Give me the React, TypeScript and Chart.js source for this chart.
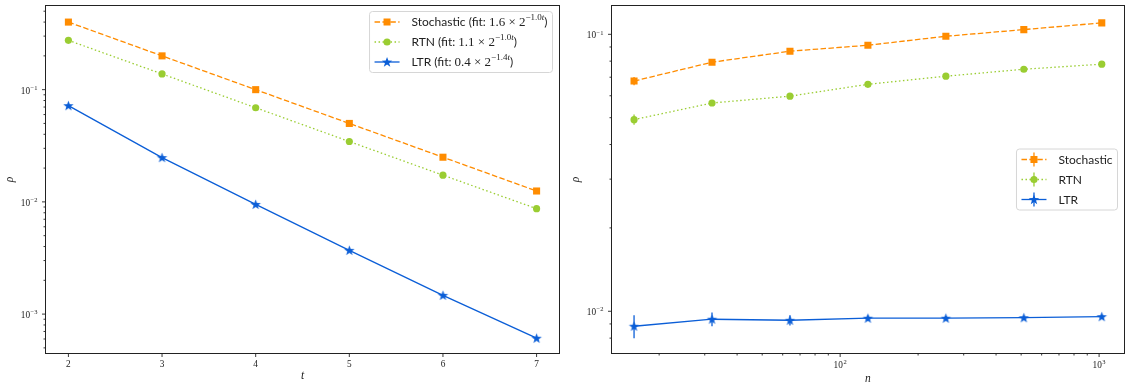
import React, { useEffect, useRef } from "react";
import { Chart, registerables } from "chart.js";

Chart.register(...registerables);

// ---------------- data ----------------
const depthT = [2, 3, 4, 5, 6, 7];
const stochT = [0.4, 0.2, 0.1, 0.05, 0.025, 0.0125];
const rtnT = [0.275, 0.138, 0.069, 0.0345, 0.0173, 0.0087];
const ltrT = [0.072, 0.0248, 0.0095, 0.0037, 0.00147, 0.00061];

const sizesN = [16, 32, 64, 128, 256, 512, 1024];
const stochN = [0.0678, 0.0793, 0.0869, 0.0913, 0.0984, 0.104, 0.11];
const stochNErr = [0.0023, 0.0015, 0.0015, 0.0015, 0.0016, 0.0017, 0.0018];
const rtnN = [0.0492, 0.0565, 0.0598, 0.066, 0.0706, 0.0748, 0.078];
const rtnNErr = [0.0021, 0.0013, 0.0012, 0.0012, 0.0012, 0.0012, 0.0012];
const ltrN = [0.00883, 0.00936, 0.00928, 0.00944, 0.00944, 0.00948, 0.00956];
const ltrNErr = [0.00084, 0.00053, 0.00039, 0.00022, 0.00018, 0.00016, 0.00015];

const seriesNames = ["Stochastic", "RTN", "LTR"];
const fitCoef = ["1.6", "1.1", "0.4"];
const fitRate = ["1.0", "1.0", "1.4"];

const tTicks = [2, 3, 4, 5, 6, 7];
const leftYMajor = [1e-3, 1e-2, 1e-1];
const rightYMajor = [1e-2, 1e-1];
const rightXMajor = [1e2, 1e3];

const leftRange = { xMin: 1.75, xMax: 7.25, yMin: 4.41e-4, yMax: 0.568 };
const rightRange = { xMin: 13.0, xMax: 1259, yMin: 0.00701, yMax: 0.1276 };

// ---------------- styles ----------------
const COLORS = ["#ff8c00", "#9acd32", "#0b5ed7"];
const DASHES = [[5.5, 2.4], [1.5, 2.5], []];
const SERIF = "'Liberation Serif', 'DejaVu Serif', serif";
const SANS = "Lato, 'Open Sans', sans-serif";
const INK = "#222222";
const TICK_SIZE = 9.3;

function starPath(ctx: CanvasRenderingContext2D, cx: number, cy: number, R: number) {
  const r = R * 0.4;
  ctx.beginPath();
  for (let i = 0; i < 10; i++) {
    const a = -Math.PI / 2 + (i * Math.PI) / 5;
    const rr = i % 2 === 0 ? R : r;
    ctx.lineTo(cx + rr * Math.cos(a), cy + rr * Math.sin(a));
  }
  ctx.closePath();
}

function makeStar(color: string, R: number) {
  const c = document.createElement("canvas");
  const s = Math.ceil(R * 2 + 2);
  c.width = s;
  c.height = s;
  const ctx = c.getContext("2d")!;
  starPath(ctx, s / 2, s / 2 + 0.4, R);
  ctx.fillStyle = color;
  ctx.fill();
  return c;
}

function drawMarker(ctx: CanvasRenderingContext2D, i: number, x: number, y: number) {
  ctx.fillStyle = COLORS[i];
  if (i === 0) {
    ctx.fillRect(x - 3.5, y - 3.5, 7, 7);
  } else if (i === 1) {
    ctx.beginPath();
    ctx.arc(x, y, 3.6, 0, Math.PI * 2);
    ctx.fill();
  } else {
    starPath(ctx, x, y + 0.4, 5.5);
    ctx.fill();
  }
}

function logMinors(min: number, max: number) {
  const out: number[] = [];
  for (let e = Math.floor(Math.log10(min)); e <= Math.ceil(Math.log10(max)); e++) {
    for (let k = 2; k <= 9; k++) {
      const v = k * Math.pow(10, e);
      if (v >= min && v <= max) out.push(v);
    }
  }
  return out;
}

function drawPow(
  ctx: CanvasRenderingContext2D,
  exp: number,
  x: number,
  baseline: number,
  align: "right" | "center"
) {
  const f1 = `${TICK_SIZE}px ${SERIF}`;
  const f2 = `${TICK_SIZE * 0.7}px ${SERIF}`;
  const mant = "10";
  const ex = exp < 0 ? "\u2212" + Math.abs(exp) : String(exp);
  ctx.font = f1;
  const w1 = ctx.measureText(mant).width;
  ctx.font = f2;
  const w2 = ctx.measureText(ex).width;
  const w = w1 + w2 + 0.5;
  const x0 = align === "right" ? x - w : x - w / 2;
  ctx.textAlign = "left";
  ctx.textBaseline = "alphabetic";
  ctx.fillStyle = INK;
  ctx.font = f1;
  ctx.fillText(mant, x0, baseline);
  ctx.font = f2;
  ctx.fillText(ex, x0 + w1 + 0.5, baseline - TICK_SIZE * 0.42);
}

type Run = { t: string; font: string; dy?: number };

type DecorSpec = {
  xMajor: number[];
  xMinor: number[];
  xLog: boolean;
  xLabelBaseline: number;
  yMajor: number[];
  yMinor: number[];
  xTitle: string;
  xTitleY: number;
  yTitleX: number;
  legendRows: Run[][];
  legendAnchor: "ur" | "cr";
  legendErr: boolean;
  errors?: number[][];
  values?: number[][];
  xs?: number[];
};

function makeDecor(spec: DecorSpec) {
  return {
    id: "decor",
    beforeDatasetsDraw(chart: any) {
      if (!spec.errors || !spec.values || !spec.xs) return;
      const ctx: CanvasRenderingContext2D = chart.ctx;
      const xs = chart.scales.x;
      const ys = chart.scales.y;
      ctx.save();
      ctx.lineWidth = 1.3;
      spec.errors.forEach((errs, i) => {
        ctx.strokeStyle = COLORS[i];
        errs.forEach((e, j) => {
          const v = spec.values![i][j];
          const px = xs.getPixelForValue(spec.xs![j]);
          ctx.beginPath();
          ctx.moveTo(px, ys.getPixelForValue(v - e));
          ctx.lineTo(px, ys.getPixelForValue(v + e));
          ctx.stroke();
        });
      });
      ctx.restore();
    },
    afterDraw(chart: any) {
      const ctx: CanvasRenderingContext2D = chart.ctx;
      const a = chart.chartArea;
      const xs = chart.scales.x;
      const ys = chart.scales.y;
      ctx.save();
      // frame
      ctx.strokeStyle = INK;
      ctx.lineWidth = 1;
      const L = Math.round(a.left) + 0.5;
      const R = Math.round(a.right) - 0.5;
      const T = Math.round(a.top) + 0.5;
      const B = Math.round(a.bottom) - 0.5;
      ctx.strokeRect(L, T, R - L, B - T);
      // ticks
      ctx.lineWidth = 0.9;
      const tickX = (v: number, len: number) => {
        const p = xs.getPixelForValue(v);
        ctx.beginPath();
        ctx.moveTo(p, B);
        ctx.lineTo(p, B + len);
        ctx.stroke();
      };
      const tickY = (v: number, len: number) => {
        const p = ys.getPixelForValue(v);
        ctx.beginPath();
        ctx.moveTo(L, p);
        ctx.lineTo(L - len, p);
        ctx.stroke();
      };
      spec.xMajor.forEach((v) => tickX(v, 3.5));
      spec.xMinor.forEach((v) => tickX(v, 2));
      spec.yMajor.forEach((v) => tickY(v, 3.5));
      spec.yMinor.forEach((v) => tickY(v, 2));
      // tick labels
      spec.yMajor.forEach((v) => {
        const p = ys.getPixelForValue(v);
        drawPow(ctx, Math.round(Math.log10(v)), L - 8, p + TICK_SIZE * 0.44, "right");
      });
      spec.xMajor.forEach((v) => {
        const p = xs.getPixelForValue(v);
        if (spec.xLog) {
          drawPow(ctx, Math.round(Math.log10(v)), p, spec.xLabelBaseline, "center");
        } else {
          ctx.font = `${TICK_SIZE}px ${SERIF}`;
          ctx.fillStyle = INK;
          ctx.textAlign = "center";
          ctx.textBaseline = "alphabetic";
          ctx.fillText(String(v), p, spec.xLabelBaseline);
        }
      });
      // axis titles
      ctx.fillStyle = INK;
      ctx.font = `italic 11.5px ${SERIF}`;
      ctx.textAlign = "center";
      ctx.textBaseline = "middle";
      ctx.fillText(spec.xTitle, (a.left + a.right) / 2, spec.xTitleY);
      ctx.save();
      ctx.translate(spec.yTitleX, (a.top + a.bottom) / 2);
      ctx.rotate(-Math.PI / 2);
      ctx.fillText("\u03c1", 0, 0);
      ctx.restore();
      // legend
      const padL = 5;
      const lineLen = 25;
      const gap = 12;
      const padR = 5;
      const rowH = 20;
      const padV = 10.5;
      ctx.textAlign = "left";
      ctx.textBaseline = "middle";
      const widths = spec.legendRows.map((runs) =>
        runs.reduce((s, r) => {
          ctx.font = r.font;
          return s + ctx.measureText(r.t).width;
        }, 0)
      );
      const W = padL + lineLen + gap + Math.max(...widths) + padR;
      const H = padV * 2 + rowH * (spec.legendRows.length - 1);
      const bx = a.right - 7.5 - W;
      const by = spec.legendAnchor === "ur" ? a.top + 6.5 : (a.top + a.bottom) / 2 - H / 2;
      ctx.beginPath();
      const rr = 3;
      ctx.moveTo(bx + rr, by);
      ctx.arcTo(bx + W, by, bx + W, by + H, rr);
      ctx.arcTo(bx + W, by + H, bx, by + H, rr);
      ctx.arcTo(bx, by + H, bx, by, rr);
      ctx.arcTo(bx, by, bx + W, by, rr);
      ctx.closePath();
      ctx.fillStyle = "rgba(255,255,255,0.8)";
      ctx.fill();
      ctx.strokeStyle = "#d6d6d6";
      ctx.lineWidth = 1;
      ctx.stroke();
      spec.legendRows.forEach((runs, i) => {
        const cy = by + padV + i * rowH;
        const lx0 = bx + padL;
        ctx.strokeStyle = COLORS[i];
        ctx.lineWidth = 1.3;
        ctx.setLineDash(DASHES[i]);
        ctx.beginPath();
        ctx.moveTo(lx0, cy);
        ctx.lineTo(lx0 + lineLen, cy);
        ctx.stroke();
        ctx.setLineDash([]);
        const mx = lx0 + lineLen / 2;
        if (spec.legendErr) {
          ctx.beginPath();
          ctx.moveTo(mx, cy - 7);
          ctx.lineTo(mx, cy + 7);
          ctx.stroke();
        }
        drawMarker(ctx, i, mx, cy);
        let tx = lx0 + lineLen + gap;
        runs.forEach((r) => {
          ctx.font = r.font;
          ctx.fillStyle = INK;
          ctx.fillText(r.t, tx, cy + 0.5 + (r.dy || 0));
          tx += ctx.measureText(r.t).width;
        });
      });
      ctx.restore();
    },
  };
}

function makeDatasets(xs: number[], series: number[][], stars: HTMLCanvasElement[]) {
  return series.map((vals, i) => ({
    label: seriesNames[i],
    data: xs.map((x, j) => ({ x, y: vals[j] })),
    borderColor: COLORS[i],
    backgroundColor: COLORS[i],
    borderWidth: 1.3,
    borderDash: DASHES[i],
    pointStyle: i === 0 ? "rect" : i === 1 ? "circle" : stars[i],
    pointRadius: i === 0 ? 5 : i === 1 ? 3.6 : 5,
    pointBorderWidth: 0,
    pointHoverRadius: i === 0 ? 5 : i === 1 ? 3.6 : 5,
    tension: 0,
    fill: false,
  }));
}

function baseOptions(range: any, xLog: boolean, yWidth: number) {
  return {
    animation: false,
    responsive: false,
    events: [],
    layout: { padding: { left: 0, right: 3, top: 4.5, bottom: 0 } },
    plugins: { legend: { display: false }, tooltip: { enabled: false }, title: { display: false } },
    scales: {
      x: {
        type: xLog ? "logarithmic" : "linear",
        min: range.xMin,
        max: range.xMax,
        grid: { display: false },
        border: { display: false },
        ticks: { display: false },
        afterFit: (s: any) => {
          s.height = 33;
        },
      },
      y: {
        type: "logarithmic",
        min: range.yMin,
        max: range.yMax,
        grid: { display: false },
        border: { display: false },
        ticks: { display: false },
        afterFit: (s: any) => {
          s.width = yWidth;
        },
      },
    },
  };
}

export default function App() {
  const leftRef = useRef<HTMLCanvasElement>(null);
  const rightRef = useRef<HTMLCanvasElement>(null);

  useEffect(() => {
    const stars = COLORS.map((c) => makeStar(c, 5.5));
    const leftRows: Run[][] = seriesNames.map((name, i) => [
      { t: `${name} (fit: `, font: `12px ${SANS}` },
      { t: `${fitCoef[i]} \u00d7 2`, font: `13px ${SERIF}` },
      { t: `\u2212${fitRate[i]}`, font: `9px ${SERIF}`, dy: -5 },
      { t: "t", font: `italic 9px ${SERIF}`, dy: -5 },
      { t: ")", font: `12px ${SANS}` },
    ]);
    const rightRows: Run[][] = seriesNames.map((name) => [{ t: name, font: `12px ${SANS}` }]);

    const left = new Chart(leftRef.current as HTMLCanvasElement, {
      type: "line",
      data: { datasets: makeDatasets(depthT, [stochT, rtnT, ltrT], stars) as any },
      options: baseOptions(leftRange, false, 45) as any,
      plugins: [
        makeDecor({
          xMajor: tTicks,
          xMinor: [],
          xLog: false,
          xLabelBaseline: 367,
          yMajor: leftYMajor,
          yMinor: logMinors(leftRange.yMin, leftRange.yMax),
          xTitle: "t",
          xTitleY: 376,
          yTitleX: 10,
          legendRows: leftRows,
          legendAnchor: "ur",
          legendErr: false,
        }),
      ],
    });

    const right = new Chart(rightRef.current as HTMLCanvasElement, {
      type: "line",
      data: { datasets: makeDatasets(sizesN, [stochN, rtnN, ltrN], stars) as any },
      options: baseOptions(rightRange, true, 45.7) as any,
      plugins: [
        makeDecor({
          xMajor: rightXMajor,
          xMinor: logMinors(rightRange.xMin, rightRange.xMax).filter((v) => !rightXMajor.includes(v)),
          xLog: true,
          xLabelBaseline: 367.5,
          yMajor: rightYMajor,
          yMinor: logMinors(rightRange.yMin, rightRange.yMax),
          xTitle: "n",
          xTitleY: 379,
          yTitleX: 11,
          legendRows: rightRows,
          legendAnchor: "cr",
          legendErr: true,
          errors: [stochNErr, rtnNErr, ltrNErr],
          values: [stochN, rtnN, ltrN],
          xs: sizesN,
        }),
      ],
    });

    return () => {
      left.destroy();
      right.destroy();
    };
  }, []);

  return (
    <div style={{ position: "absolute", left: 0, top: 0, width: 1130, height: 387, background: "#fff" }}>
      <canvas
        ref={leftRef}
        width={565}
        height={387}
        style={{ position: "absolute", left: 0, top: 0, width: 565, height: 387, display: "block" }}
      />
      <canvas
        ref={rightRef}
        width={565}
        height={387}
        style={{ position: "absolute", left: 565, top: 0, width: 565, height: 387, display: "block" }}
      />
    </div>
  );
}
